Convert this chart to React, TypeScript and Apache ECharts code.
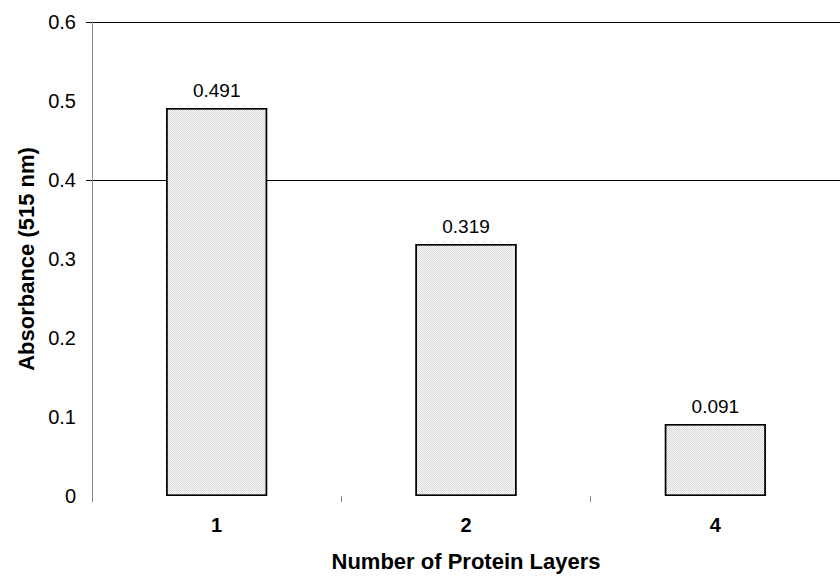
import React, { useEffect, useRef } from "react";
import * as echarts from "echarts";

const categories = ["1", "2", "4"];
const absorbance = [0.491, 0.319, 0.091];
const labelTexts = ["0.491", "0.319", "0.091"];
const gridValues = [0.4, 0.6];

const FONT = "'Liberation Sans', Arial, sans-serif";

export default function App() {
  const ref = useRef<HTMLDivElement>(null);
  useEffect(() => {
    if (!ref.current) return;
    const chart = echarts.init(ref.current, null, { renderer: "svg" });
    chart.setOption({
      animation: false,
      backgroundColor: "#ffffff",
      grid: { left: 92, right: -11, top: 22, bottom: 77, containLabel: false },
      xAxis: {
        type: "category",
        data: categories,
        name: "Number of Protein Layers",
        nameLocation: "middle",
        nameGap: 54,
        nameTextStyle: { fontFamily: FONT, fontSize: 22, fontWeight: "bold", color: "#000" },
        axisLine: { show: false },
        axisTick: { show: true, length: 6, interval: 0, lineStyle: { color: "#888", width: 1 } },
        axisLabel: { margin: 19, fontFamily: FONT, fontSize: 20, fontWeight: "bold", color: "#000" },
        splitLine: { show: false },
      },
      yAxis: {
        type: "value",
        min: 0,
        max: 0.6,
        interval: 0.1,
        name: "Absorbance (515 nm)",
        nameLocation: "middle",
        nameGap: 54,
        nameTextStyle: { fontFamily: FONT, fontSize: 22, fontWeight: "bold", color: "#000" },
        axisLine: { show: true, lineStyle: { color: "#888", width: 1 } },
        axisTick: { show: true, length: 6, customValues: gridValues, lineStyle: { color: "#000", width: 1 } },
        axisLabel: {
          margin: 16,
          fontFamily: FONT,
          fontSize: 20,
          color: "#000",
          formatter: (v: number) => (v === 0 ? "0" : v.toFixed(1)),
        },
        splitLine: { show: true, lineStyle: { color: "#000", width: 1 } },
      },
      series: [
        {
          type: "bar",
          data: absorbance,
          barWidth: 101,
          itemStyle: {
            color: "#d8d8d8",
            borderColor: "#000",
            borderWidth: 1.5,
            decal: {
              symbol: "rect",
              symbolSize: 1,
              dashArrayX: [[1, 1], [0, 1, 1, 0]],
              dashArrayY: [1, 0],
              color: "rgba(255,255,255,0.85)",
            },
          },
          label: {
            show: true,
            position: "top",
            distance: 8,
            fontFamily: FONT,
            fontSize: 19,
            color: "#000",
            formatter: (p: any) => labelTexts[p.dataIndex],
          },
        },
      ],
    });
    return () => chart.dispose();
  }, []);
  return <div ref={ref} style={{ position: "fixed", left: 0, top: 0, width: 840, height: 577 }} />;
}
